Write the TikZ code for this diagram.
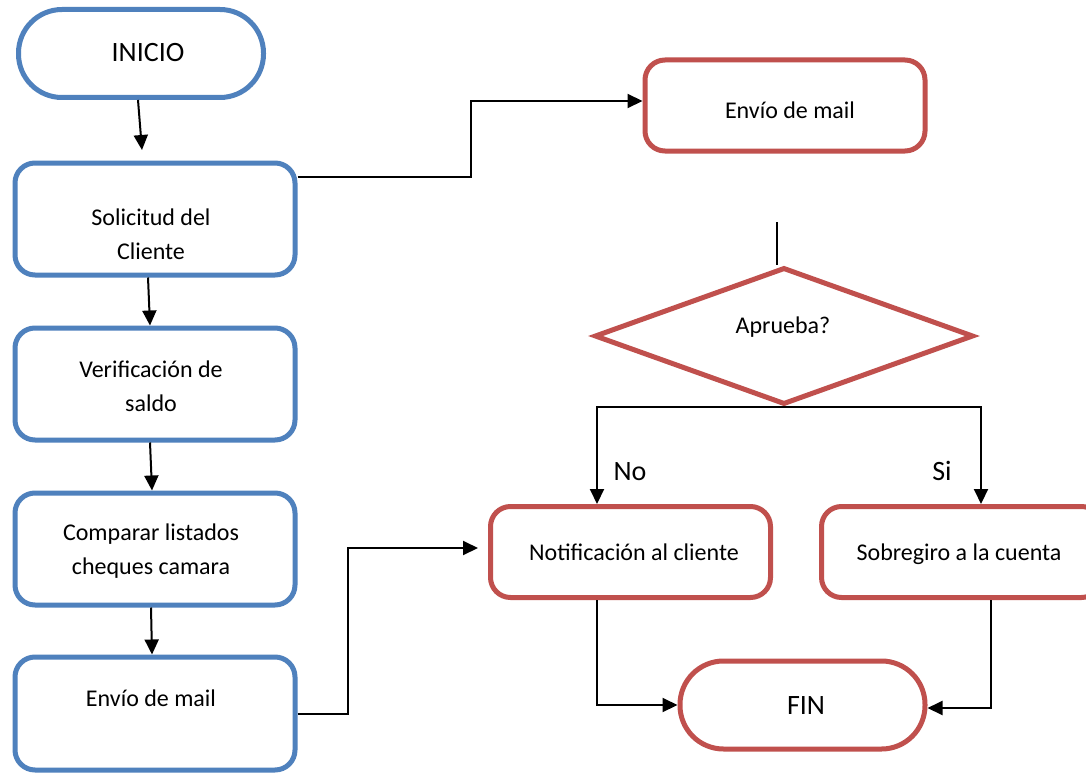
\documentclass[tikz,border=0pt]{standalone}
\usepackage{fontspec}
\setmainfont{Carlito}
\usetikzlibrary{arrows.meta,shapes.geometric}
\definecolor{flowblue}{RGB}{79,129,189}
\definecolor{flowred}{RGB}{192,80,77}
\tikzset{
  box/.style={draw, line width=5pt, rounded corners=20pt, fill=white, inner sep=0pt},
  bluebox/.style={box, draw=flowblue, minimum width=280pt, minimum height=112pt},
  redbox/.style={box, draw=flowred, minimum width=280pt, minimum height=91pt},
  terminal/.style={draw, line width=5pt, fill=white, rounded corners=43.5pt,
    minimum width=245pt, minimum height=88pt, inner sep=0pt},
  txt/.style={font=\fontsize{24}{34}\selectfont, align=center, inner sep=0pt},
  bigtxt/.style={font=\fontsize{28}{34}\selectfont, inner sep=0pt},
  conn/.style={line width=2pt, draw=black},
  arr/.style={conn, -{Triangle[length=15pt,width=14pt]}},
}
\begin{document}
\begin{tikzpicture}[x=1pt, y=-1pt]
  \useasboundingbox (0,0) rectangle (1086,773);
  \clip (0,0) rectangle (1086,773);
  \fill[white] (0,0) rectangle (1086,773);

  % left column (blue)
  \node[terminal, draw=flowblue] (inicio) at (141,53.5) {};
  \node[bigtxt, anchor=base] (inicioT) at (148,62) {INICIO};
  \node[bluebox] (solic) at (155,219) {};
  \node[txt] (solicT) at (151,234) {Solicitud del\\Cliente};
  \node[bluebox] (verif) at (155,384) {};
  \node[txt] (verifT) at (151,386) {Verificación de\\saldo};
  \node[bluebox] (comp) at (155,549) {};
  \node[txt] (compT) at (151,551) {Comparar listados\\cheques camara};
  \node[bluebox, minimum height=113pt] (mailA) at (155,713.5) {};
  \node[txt, anchor=base] (mailAT) at (151,706) {Envío de mail};

  % right side (red)
  \node[redbox] (mailB) at (785,105.5) {};
  \node[txt, anchor=base] (mailBT) at (790,119) {Envío de mail};
  \node[diamond, draw=flowred, line width=5pt, fill=white, minimum width=379pt,
        minimum height=137pt, inner sep=0pt] (dec) at (784,336) {};
  \node[txt, anchor=base] (decT) at (783,333) {Aprueba?};
  \node[redbox] (notif) at (630.5,552) {};
  \node[txt, anchor=base] (notifT) at (634,560) {Notificación al cliente};
  \node[redbox] (sobre) at (961.5,552) {};
  \node[txt, anchor=base] (sobreT) at (959,560) {Sobregiro a la cuenta};
  \node[terminal, draw=flowred] (fin) at (802.5,705) {};
  \node[bigtxt, anchor=base] (finT) at (806,714) {FIN};
  \node[bigtxt, anchor=base] (no) at (630,480) {No};
  \node[bigtxt, anchor=base] (si) at (942,480) {Si};

  % connectors, left column
  \draw[arr] ([xshift=-3pt]inicio.south) -- ([xshift=-13pt,yshift=10.5pt]solic.north);
  \draw[arr] ([xshift=-7pt]solic.south) -- ([xshift=-5pt]verif.north);
  \draw[arr] ([xshift=-5pt]verif.south) -- ([xshift=-3pt]comp.north);
  \draw[arr] ([xshift=-4pt]comp.south) -- ([xshift=-3pt]mailA.north);

  % connectors across
  \draw[arr] ([yshift=42pt]solic.east) -- (471,177) |- ([yshift=4.5pt]mailB.west);
  \draw[arr] (mailA.east) -- (348,713.5) |- ([xshift=-10pt,yshift=4pt]notif.west);

  % decision
  \coordinate (dtop) at (777,222);
  \draw[conn] (dtop) -- (dtop |- dec.north);
  \draw[arr] (dec.south) -| ([xshift=-33.5pt]notif.north);
  \draw[arr] (dec.south) -| ([xshift=19.5pt]sobre.north);

  % to the end
  \draw[arr] ([xshift=-33.5pt]notif.south) |- (fin.west);
  \draw[arr] ([xshift=29.5pt]sobre.south) |- ([yshift=-3pt]fin.east);
\end{tikzpicture}
\end{document}
